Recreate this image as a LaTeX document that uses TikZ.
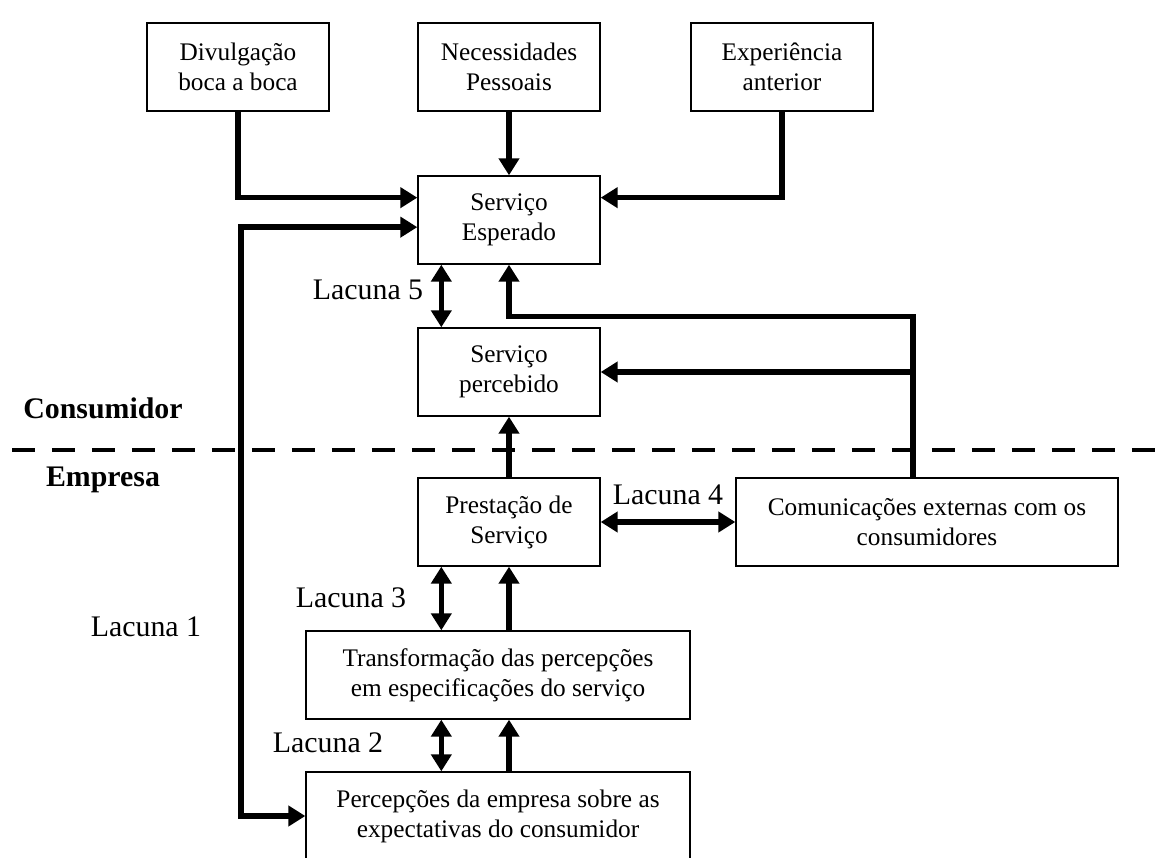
\documentclass[tikz,border=0pt]{standalone}
\usepackage{fontspec}
\setmainfont{Liberation Serif}
\usetikzlibrary{arrows.meta, positioning, calc}

\begin{document}
\begin{tikzpicture}[x=0.02cm, y=-0.02cm,
	font=\fontsize{14.4}{17}\selectfont,
	bx/.style={rectangle, draw, line width=0.8pt, minimum width=3.64cm,
		minimum height=1.76cm, align=center, inner sep=1pt},
	wbx/.style={bx, minimum width=7.68cm},
	lb/.style={font=\fontsize{17}{20}\selectfont},
	hd/.style={font=\fontsize{17}{20}\selectfont\bfseries},
	fl/.style={-{Triangle[length=0.34cm, width=0.4cm]}, line width=0.11cm},
	dfl/.style={{Triangle[length=0.34cm, width=0.4cm]}-{Triangle[length=0.34cm, width=0.4cm]},
		line width=0.11cm}]
	\path[use as bounding box] (0,0) rectangle (1174,858);
	\clip (0,0) rectangle (1174,858);
	% consumidor / empresa
	\draw[line width=0.1cm, dash pattern=on 0.46cm off 0.34cm] (12,450) -- (1166,450);
	\node[hd] (cons) at (103,408) {Consumidor};
	\node[hd] (emp)  at (103,480) {Empresa};
	% caixas
	\node[bx] (dv) at (238,67)  {Divulgação\\boca a boca};
	\node[bx] (np) at (509,67)  {Necessidades\\Pessoais};
	\node[bx] (ea) at (782,67)  {Experiência\\anterior};
	\node[bx] (se) at (509,220) {Serviço\\Esperado};
	\node[bx] (sp) at (509,372) {Serviço\\percebido};
	\node[bx] (ps) at (509,522) {Prestação de\\Serviço};
	\node[bx, minimum width=7.64cm] (ce) at (927,522) {Comunicações externas com os\\consumidores};
	\node[wbx] (tp) at (498,675) {Transformação das percepções\\em especificações do serviço};
	\node[wbx] (pe) at (498,816) {Percepções da empresa sobre as\\expectativas do consumidor};
	% lacunas
	\node[lb] (l5) at (368,290) {Lacuna 5};
	\node[lb] (l4) at (668,495) {Lacuna 4};
	\node[lb] (l3) at (351,598) {Lacuna 3};
	\node[lb] (l2) at (328,743) {Lacuna 2};
	\node[lb] (l1) at (146,627) {Lacuna 1};
	% setas
	\coordinate (se1) at ($(se.north west)!.25!(se.south west)$);
	\coordinate (se2) at ($(se.north west)!.58!(se.south west)$);
	\coordinate (se3) at ($(se.north east)!.25!(se.south east)$);
	\coordinate (k1) at (241,500);
	\coordinate (cx) at ($(ce.north)+(-14,0)$);
	\draw[fl] (dv.south) |- (se1);
	\draw[fl] (np) -- (se);
	\draw[fl] (ea.south) |- (se3);
	\draw[dfl] (se2) -| (k1) |- (pe.west);
	\draw[dfl] ($(se.south west)+(24,0)$) coordinate (g5) -- (g5 |- sp.north);
	\draw[fl] (cx) |- ($(se.south)+(0,52)$) -- (se.south);
	\draw[fl] (sp.east -| cx) -- (sp.east);
	\draw[fl] (ps) -- (sp);
	\draw[dfl] (ps) -- (ce);
	\draw[dfl] ($(ps.south west)+(24,0)$) coordinate (g3) -- (g3 |- tp.north);
	\draw[fl] (tp.north -| ps.south) -- (ps.south);
	\draw[dfl] (g3 |- tp.south) -- (g3 |- pe.north);
	\draw[fl] (pe.north -| ps.south) -- (tp.south -| ps.south);
\end{tikzpicture}
\end{document}
